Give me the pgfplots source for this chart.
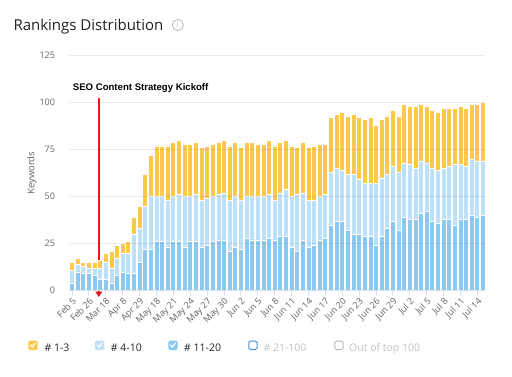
\documentclass[border=0pt]{standalone}
\usepackage{fontspec}
\setmainfont{Open Sans}
\newfontfamily\annfont{Liberation Sans}
\usepackage{pgfplots}
\pgfplotsset{compat=1.18}
\usepackage{pgfplotstable}
\usetikzlibrary{arrows.meta}
\definecolor{cTop}{RGB}{253,200,76}
\definecolor{cMid}{RGB}{189,225,248}
\definecolor{cLow}{RGB}{140,201,240}
\definecolor{tickgray}{RGB}{100,100,100}
\definecolor{axisblue}{RGB}{214,224,238}
\definecolor{legblue}{RGB}{74,144,226}
\definecolor{leggray}{RGB}{185,185,185}
\definecolor{legtext}{RGB}{195,195,195}
\definecolor{titlecol}{RGB}{34,34,34}
\definecolor{arrowred}{RGB}{232,24,28}

\pgfplotstableread{
x a b c
0 4 7 4
1 10 4 3
2 9 4 2
3 9 3 3
4 8 4 3
5 6 6 4
6 6 9 5
7 4 8 9
8 8 9 7
9 10 10 5
10 9 11 6
11 9 21 9
12 15 18 12
13 22 23 17
14 22 28 22
15 26 24 27
16 26 24 27
17 23 25 29
18 26 24 29
19 26 25 29
20 23 27 28
21 26 24 28
22 26 25 28
23 23 25 28
24 24 25 28
25 26 24 28
26 27 24 28
27 27 25 28
28 21 27 29
29 23 27 29
30 22 26 28
31 28 22 29
32 27 23 29
33 27 23 28
34 27 23 28
35 28 23 29
36 27 21 29
37 29 23 27
38 29 25 26
39 23 27 27
40 21 30 25
41 27 25 27
42 23 25 28
43 24 24 29
44 27 23 28
45 28 23 27
46 35 28 29
47 37 28 29
48 37 27 31
49 32 30 31
50 30 32 32
51 30 29 33
52 29 28 34
53 29 28 35
54 24 33 31
55 29 31 31
56 33 29 31
57 37 29 30
58 32 31 30
59 39 29 31
60 38 29 31
61 38 27 33
62 41 28 30
63 42 26 30
64 37 28 31
65 36 28 31
66 38 27 32
67 38 28 31
68 35 32 30
69 38 29 31
70 38 28 31
71 40 30 29
72 39 30 30
73 40 29 31
}\rankdata

\begin{document}
\begin{tikzpicture}[x=1pt,y=1pt]
\path[use as bounding box, fill=white] (0,0) rectangle (512,376);

% title
\node[anchor=base west, inner sep=0, font=\fontsize{15}{18}\selectfont, text=titlecol] at (13.3,345) {Rankings Distribution};
\draw[leggray, line width=0.8pt] (177.8,351) circle (5.6);
\node[inner sep=0, font=\fontsize{7.5}{8}\selectfont, text=leggray] at (177.8,351) {i};

\begin{axis}[
  at={(69pt,85.3pt)}, anchor=south west,
  scale only axis, width=416pt, height=235pt,
  ybar stacked, bar width=5pt,
  xmin=-0.53, xmax=73.36, ymin=0, ymax=125,
  clip=false,
  axis on top,
  ytick={0,25,50,75,100,125},
  xtick={0,3,...,72},
  xticklabels={Feb 5,Feb 26,Mar 18,Apr 8,Apr 29,May 18,May 21,May 24,May 27,May 30,Jun 2,Jun 5,Jun 8,Jun 11,Jun 14,Jun 17,Jun 20,Jun 23,Jun 26,Jun 29,Jul 2,Jul 5,Jul 8,Jul 11,Jul 14},
  axis x line*=bottom,
  axis y line*=left,
  y axis line style={draw=none},
  x axis line style={draw=axisblue, line width=1pt},
  ytick style={draw=none},
  xtick style={draw=axisblue, line width=0.8pt},
  tick align=outside,
  major tick length=5pt,
  ymajorgrids,
  major grid style={draw=black, opacity=0.08, line width=0.8pt},
  /pgf/number format/assume math mode=true,
  ticklabel style={text=tickgray},
  yticklabel style={font=\fontsize{9}{11}\selectfont, xshift=-5.5pt},
  xticklabel style={font=\fontsize{9}{10}\selectfont, rotate=45, anchor=north east, inner sep=1pt},
  ylabel={Keywords},
  ylabel style={at={(axis description cs:-0.089,0.5)}, rotate=0, anchor=center, font=\fontsize{9.5}{11}\selectfont, text=tickgray},
]
\addplot[fill=cLow, draw=white, line width=0.7pt] table[x=x,y=a]{\rankdata};
\addplot[fill=cMid, draw=white, line width=0.7pt] table[x=x,y=b]{\rankdata};
\addplot[fill=cTop, draw=white, line width=0.7pt] table[x=x,y=c]{\rankdata};
\draw[arrowred, line width=1.6pt, -{Triangle[width=6.5pt,length=5.5pt]}] (axis cs:4.76,102.3) -- (axis cs:4.76,-3.4);
\end{axis}

% annotation
\node[anchor=base west, inner sep=0, font=\annfont\bfseries\fontsize{9.6}{11}\selectfont] at (72.7,286) {SEO Content Strategy Kickoff};

% legend
\begin{scope}[font=\fontsize{10.5}{12}\selectfont]
\fill[cTop, rounded corners=1.5pt] (28.3,26) rectangle (37.7,35.4);
\draw[white, line width=1.2pt] (30.4,31.2) -- (32.4,29) -- (35.6,33.2);
\node[anchor=base west, inner sep=0, text=titlecol] at (44.3,25) {\# 1-3};
\fill[cMid, rounded corners=1.5pt] (95,26) rectangle (104.4,35.4);
\draw[white, line width=1.2pt] (97.1,31.2) -- (99.1,29) -- (102.3,33.2);
\node[anchor=base west, inner sep=0, text=titlecol] at (110.7,25) {\# 4-10};
\fill[cLow, rounded corners=1.5pt] (168.3,26) rectangle (177.7,35.4);
\draw[white, line width=1.2pt] (170.4,31.2) -- (172.4,29) -- (175.6,33.2);
\node[anchor=base west, inner sep=0, text=titlecol] at (184,25) {\# 11-20};
\draw[legblue, line width=1pt, rounded corners=1.5pt] (248.8,26.5) rectangle (257,34.9);
\node[anchor=base west, inner sep=0, text=legtext] at (263.3,25) {\# 21-100};
\draw[leggray, line width=1pt, rounded corners=1.5pt] (334.8,26.5) rectangle (343,34.9);
\node[anchor=base west, inner sep=0, text=legtext] at (349,25) {Out of top 100};
\end{scope}
\end{tikzpicture}
\end{document}
